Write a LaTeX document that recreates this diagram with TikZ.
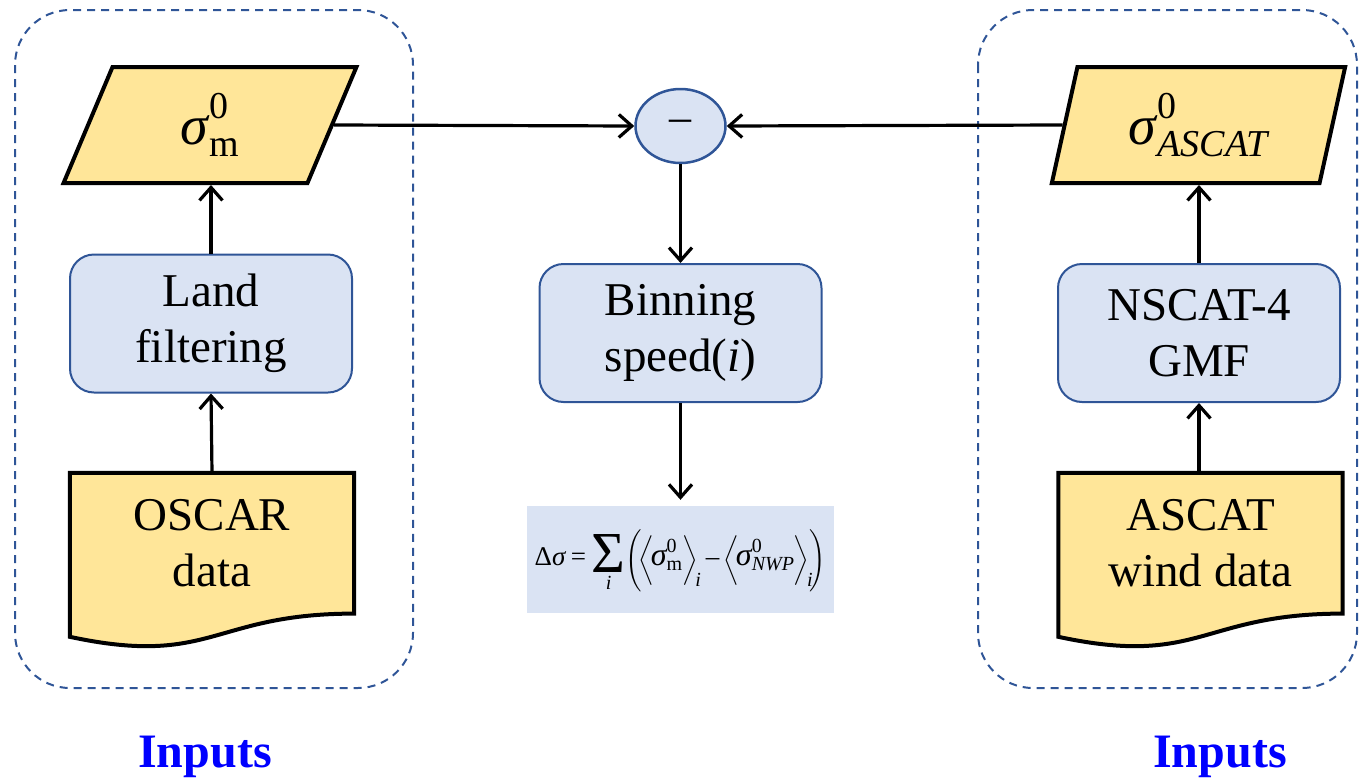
\RequirePackage{fix-cm}
\documentclass[tikz,border=0pt]{standalone}
\usepackage{amsmath}
\usepackage{fontspec}
\setmainfont{Liberation Serif}
\usetikzlibrary{shapes.geometric,arrows.meta,calc,backgrounds}
\definecolor{yel}{HTML}{FFE699}
\definecolor{lblue}{HTML}{DAE3F3}
\definecolor{dblue}{HTML}{2F5597}
\definecolor{inblue}{HTML}{0000FF}
\newcommand\mainfs{\fontsize{47}{56}\selectfont}
\newcommand\fbig[1]{\text{\fontsize{27}{28}\selectfont #1}}
\newcommand\fsml[1]{\text{\fontsize{20}{22}\selectfont #1}}
\newcommand\termsig[1]{\text{\fontsize{32}{32}\selectfont\itshape σ}\rlap{\raisebox{13pt}{\fsml{0}}}\raisebox{-5pt}{\fsml{#1}}}
\newcommand\bigsig[1]{{\fontsize{56}{56}\selectfont\itshape σ}\hspace{1pt}%
  \rlap{\raisebox{26pt}{\fontsize{38}{40}\selectfont 0}}%
  \raisebox{-12pt}{\fontsize{38}{40}\selectfont #1}}
\newcommand\docoutline[1]{%
  \filldraw[docline] (#1.north west) -- (#1.north east)
    -- ($(#1.north east)+(0,140.8)$)
    .. controls ($(#1.north)+(0,140.8)$) and ($(#1.north)+(0,194.5)$) ..
    ($(#1.north west)+(0,164)$) -- cycle;}
\begin{document}
\begin{tikzpicture}[x=1pt,y=-1pt,
  arr/.style={line width=3.2pt,-{Straight Barb[length=13pt,width=23pt]}},
  procbox/.style={draw=dblue,line width=2pt,fill=lblue,rounded corners=24pt,
    minimum width=282pt,minimum height=138pt,align=center,font=\mainfs},
  para/.style={trapezium,trapezium stretches=true,trapezium left angle=77,
    trapezium right angle=103,draw=black,line width=4pt,fill=yel,
    minimum width=294pt,minimum height=116pt,inner sep=0pt},
  doctext/.style={minimum width=284pt,minimum height=140pt,align=center,font=\mainfs,inner sep=0pt},
  docline/.style={draw=black,line width=4pt,fill=yel,line join=miter},
  dashbox/.style={draw=dblue,line width=2pt,dash pattern=on 8pt off 6pt,rounded corners=55pt},
  inputs/.style={text=inblue,font=\fontsize{48}{56}\selectfont\bfseries},
  minusnode/.style={ellipse,draw=dblue,line width=2.5pt,fill=lblue,minimum width=90pt,minimum height=74pt,inner sep=0pt},
  formula/.style={fill=lblue,minimum width=307pt,minimum height=107pt,inner sep=0pt}
]
\useasboundingbox (0,0) rectangle (1360,782);
% dashed groups
\draw[dashbox] (15,10) rectangle (413,688);
\draw[dashbox] (978,10) rectangle (1357,688);
% left column
\node[para] (pm) at (210,125) {\raisebox{-6pt}{\bigsig{m}}};
\node[procbox] (land) at (211,323.5) {Land\\filtering};
\node[doctext] (oscar) at (212,543) {OSCAR\\data};
\begin{scope}[on background layer]
  \docoutline{oscar}
\end{scope}
% middle column
\node[minusnode] (minus) at (680.5,126) {\raisebox{-4pt}{\fontsize{44}{44}\selectfont –}};
\node[procbox] (bin) at (680.5,333) {Binning\\speed(\textit{i})};
\node[formula] (form) at (680.5,559.5) {\fontsize{20}{24}\selectfont
  $\fbig{Δ\itshape σ}\mathrel{\fbig{=}}\mathop{\raisebox{-7pt}{\fontsize{58}{58}\selectfont Σ}}\limits_{\fsml{\itshape i}}
  \!\left(\vrule height 38pt depth 26pt width 0pt\!
  \left\langle\!\termsig{m}\vrule height 28pt depth 18pt width 0pt\right\rangle_{\!\fsml{\itshape i}}
  \mathbin{\fbig{–}}\left\langle\!\termsig{\itshape NWP}\vrule height 28pt depth 18pt width 0pt\right\rangle_{\!\fsml{\itshape i}}\!\right)$};
% right column
\node[para] (pa) at (1198.5,125) {\raisebox{-6pt}{\bigsig{\itshape ASCAT}}};
\node[procbox] (nscat) at (1199,333) {NSCAT-4\\GMF};
\node[doctext] (ascat) at (1200.5,543) {ASCAT\\wind data};
\begin{scope}[on background layer]
  \docoutline{ascat}
\end{scope}
% labels
\node[inputs] (in1) at (205,757) {Inputs};
\node[inputs] (in2) at (1220,757) {Inputs};
% connectors
\draw[arr] (oscar.north) -- (land.south);
\draw[arr] (land.north) -- (land.north |- pm.south);
\draw[arr] (ascat.north -| nscat.south) -- (nscat.south);
\draw[arr] (nscat.north) -- (nscat.north |- pa.south);
\draw[arr] (pm.east) -- (minus.west);
\draw[arr] (pa.west) -- (minus.east);
\draw[arr] (minus.south) -- (bin.north);
\draw[arr,shorten >=6pt] (bin.south) -- (form.north);
\end{tikzpicture}
\end{document}
